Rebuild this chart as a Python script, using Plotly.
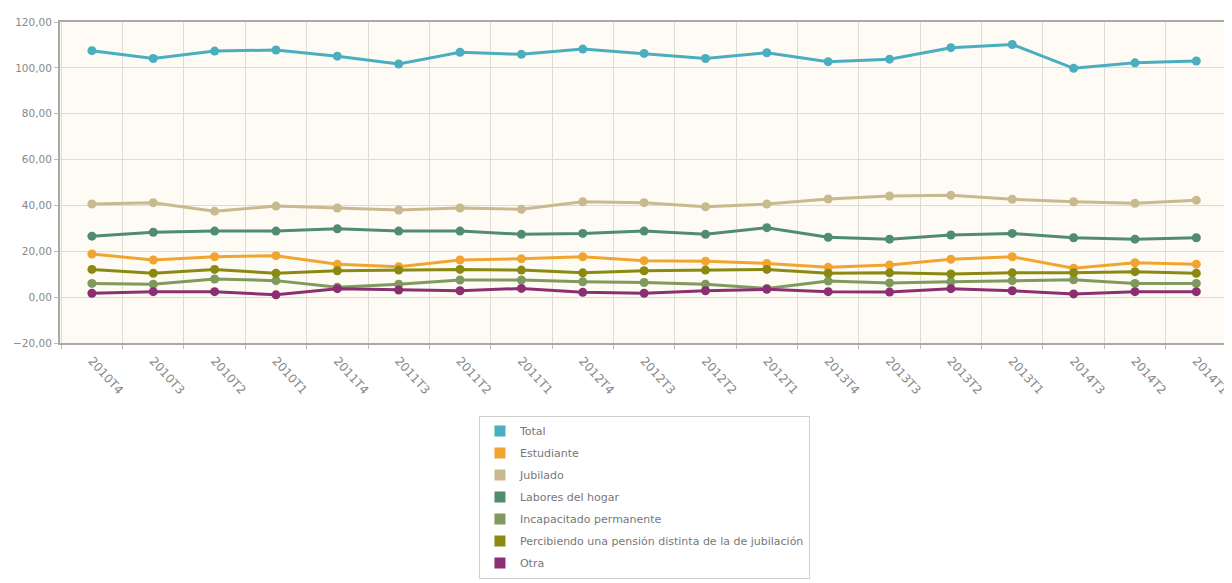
import plotly.graph_objects as go

categories = ["2010T4", "2010T3", "2010T2", "2010T1", "2011T4", "2011T3", "2011T2", "2011T1",
              "2012T4", "2012T3", "2012T2", "2012T1", "2013T4", "2013T3", "2013T2", "2013T1",
              "2014T3", "2014T2", "2014T1"]

total = [107.5, 104.1, 107.3, 107.8, 105.1, 101.7, 106.8, 105.9, 108.2, 106.3, 104.1, 106.6,
         102.7, 103.8, 108.8, 110.2, 99.8, 102.2, 103.0]
estudiante = [18.8, 16.2, 17.6, 18.1, 14.3, 13.3, 16.2, 16.7, 17.6, 15.9, 15.7, 14.7,
              13.0, 14.0, 16.5, 17.6, 12.6, 15.0, 14.4]
jubilado = [40.6, 41.2, 37.5, 39.7, 38.9, 38.0, 38.9, 38.3, 41.6, 41.2, 39.4, 40.6,
            42.8, 44.1, 44.4, 42.7, 41.6, 40.9, 42.3]
labores = [26.6, 28.3, 28.8, 28.8, 29.8, 28.8, 28.8, 27.4, 27.8, 28.8, 27.4, 30.3,
           26.1, 25.3, 27.1, 27.8, 25.9, 25.3, 25.9]
incapacitado = [6.0, 5.6, 7.9, 7.2, 4.3, 5.6, 7.5, 7.5, 6.7, 6.4, 5.6, 3.8,
                7.0, 6.2, 6.7, 7.2, 7.6, 6.0, 6.0]
pension = [12.1, 10.4, 12.1, 10.4, 11.5, 11.8, 12.1, 11.8, 10.6, 11.5, 11.8, 12.1,
           10.4, 10.6, 10.1, 10.6, 10.6, 11.1, 10.4]
otra = [1.7, 2.4, 2.4, 1.0, 3.7, 3.1, 2.8, 3.8, 2.1, 1.7, 2.8, 3.4,
        2.4, 2.2, 3.7, 2.8, 1.4, 2.4, 2.4]

series_names = ["Total", "Estudiante", "Jubilado", "Labores del hogar", "Incapacitado permanente",
                "Percibiendo una pensión distinta de la de jubilación", "Otra"]
series_values = [total, estudiante, jubilado, labores, incapacitado, pension, otra]
colors = ["#4aaec0", "#f0a531", "#c9b98f", "#4f8c70", "#7e9a5e", "#8a8a12", "#8c2f72"]

fig = go.Figure()
for name, vals, col in zip(series_names, series_values, colors):
    fig.add_trace(go.Scatter(
        x=categories, y=vals, mode="lines+markers", name=name,
        line=dict(color=col, width=3), marker=dict(color=col, size=9),
        showlegend=False, hoverinfo="x+y+name"))
for i, (name, col) in enumerate(zip(series_names, colors)):
    fig.add_trace(go.Scatter(
        x=[None], y=[None], mode="markers", name=name,
        marker=dict(color=col, size=11, symbol="square"),
        legendgroup="g%d" % i, showlegend=True))

# the page body has an 8px margin, so the figure is 8px smaller and margins shifted
fig.update_layout(
    width=1224, height=575,
    margin=dict(l=52, r=5, t=14, b=240, autoexpand=False),
    paper_bgcolor="white",
    plot_bgcolor="#fdfbf3",
    separators=",.",
    font=dict(family="DejaVu Sans", size=10, color="#888"),
    legend=dict(
        x=0.359, xanchor="left", y=-0.226, yanchor="top",
        orientation="v", bgcolor="white", bordercolor="#cfcfcf", borderwidth=1,
        font=dict(family="DejaVu Sans", size=11, color="#777"), tracegroupgap=3, itemwidth=30),
)
fig.update_xaxes(
    type="category", tickson="boundaries", range=[-0.52, 18.5], automargin=False,
    tickangle=48, tickfont=dict(family="DejaVu Sans", size=12, color="#888"),
    ticklabelstandoff=4,
    showgrid=True, gridcolor="#dedbd2", gridwidth=1,
    showline=True, linecolor="#a9a9a9", linewidth=2, mirror=True,
    ticks="outside", ticklen=4, tickcolor="#bbb", zeroline=False)
fig.update_yaxes(
    range=[-20, 120], dtick=20, tick0=0, tickformat=".2f", automargin=False,
    tickfont=dict(family="DejaVu Sans", size=10.5, color="#888"),
    showgrid=True, gridcolor="#dedbd2", gridwidth=1,
    showline=True, linecolor="#a9a9a9", linewidth=2, mirror=True,
    ticks="outside", ticklen=4, tickcolor="#bbb", zeroline=False)

fig.write_html("out.html")
